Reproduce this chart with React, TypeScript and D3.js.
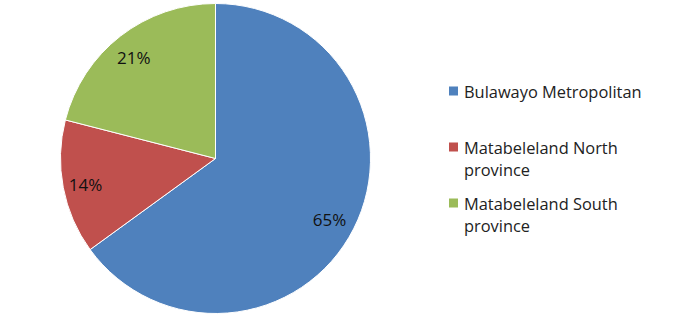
import React from "react";
import * as d3 from "d3";

const categories = ["Bulawayo Metropolitan", "Matabeleland North province", "Matabeleland South province"];
const legendLines = [["Bulawayo Metropolitan"], ["Matabeleland North", "province"], ["Matabeleland South", "province"]];
const values = [65, 14, 21];
const colors = ["#4F81BD", "#C0504D", "#9BBB59"];

const W = 700, H = 318;
const cx = 215.5, cy = 158.5, R = 155;
const FONT = "'Open Sans', sans-serif";

export default function App() {
  const pie = d3.pie<number>().sort(null).value((d) => d)(values);
  const arc = d3.arc<d3.PieArcDatum<number>>().innerRadius(0).outerRadius(R);
  const labelArc = d3.arc<d3.PieArcDatum<number>>().innerRadius(R * 0.84).outerRadius(R * 0.84);
  const total = d3.sum(values);
  const legendY = d3.scaleLinear().domain([0, 1]).range([91, 147]);
  const lineH = 22.5;
  return (
    <svg width={W} height={H} style={{ position: "absolute", left: 0, top: 0, background: "#fff" }}>
      <g transform={`translate(${cx},${cy})`}>
        {pie.map((p, i) => (
          <path key={i} d={arc(p) || ""} fill={colors[i]} stroke="#fff" strokeWidth={1} />
        ))}
        {pie.map((p, i) => {
          const [x, y] = labelArc.centroid(p);
          return (
            <text key={i} x={x - 2} y={y + 2} textAnchor="middle" dominantBaseline="central" fontFamily={FONT} fontSize={17} fill="#111">
              {Math.round((values[i] / total) * 100)}%
            </text>
          );
        })}
      </g>
      {categories.map((c, i) => {
        const y0 = legendY(i);
        return (
          <g key={c}>
            <rect x={449} y={y0 - 4.5} width={9} height={9} fill={colors[i]} />
            {legendLines[i].map((t, j) => (
              <text key={j} x={464} y={y0 + j * lineH} dominantBaseline="central" fontFamily={FONT} fontSize={16.4} fill="#222">
                {t}
              </text>
            ))}
          </g>
        );
      })}
    </svg>
  );
}
